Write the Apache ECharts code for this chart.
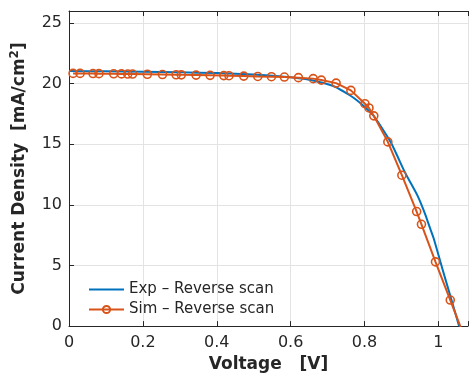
<!DOCTYPE html>
<html>
<head>
<meta charset="utf-8">
<script src="https://cdn.jsdelivr.net/npm/echarts@6/dist/echarts.min.js"></script>
<style>
  html, body { margin: 0; padding: 0; background: #fff; }
  #chart { width: 471px; height: 378px; }
</style>
</head>
<body>
<div id="chart"></div>
<script>
// Exp - Reverse scan (solid line)
const expVoltage = [0, 0.1, 0.2, 0.3, 0.4, 0.5, 0.55, 0.6, 0.64, 0.68, 0.72, 0.76, 0.78, 0.8, 0.823, 0.85, 0.872, 0.89, 0.908, 0.925, 0.942, 0.955, 0.966, 0.977, 0.988, 1.01, 1.032, 1.056];
const expCurrent = [21.05, 21.02, 20.98, 20.94, 20.88, 20.76, 20.66, 20.54, 20.38, 20.12, 19.75, 19.05, 18.62, 18.1, 17.4, 16.2, 15.1, 13.95, 12.77, 11.8, 10.85, 9.95, 9.07, 8.1, 7.15, 4.8, 2.5, 0];

// Sim - Reverse scan (line + open circles)
const simVoltage = [0.011, 0.030, 0.065, 0.081, 0.121, 0.142, 0.159, 0.172, 0.212, 0.253, 0.290, 0.304, 0.344, 0.382, 0.419, 0.433, 0.473, 0.511, 0.548, 0.583, 0.621, 0.661, 0.683, 0.723, 0.763, 0.801, 0.812, 0.825, 0.863, 0.901, 0.941, 0.954, 0.992, 1.032, 1.064];
const simCurrent = [20.85, 20.85, 20.84, 20.83, 20.82, 20.81, 20.8, 20.8, 20.78, 20.76, 20.74, 20.73, 20.71, 20.69, 20.67, 20.66, 20.63, 20.6, 20.58, 20.55, 20.5, 20.42, 20.3, 20.05, 19.45, 18.35, 18.0, 17.35, 15.2, 12.45, 9.45, 8.4, 5.3, 2.15, -0.4];

const xTicks = [0, 0.2, 0.4, 0.6, 0.8, 1];
const yTicks = [0, 5, 10, 15, 20, 25];

const AXIS_COLOR = '#262626';
const GRID_COLOR = '#e3e3e3';
const FONT = 'DejaVu Sans';
const BLUE = '#0072BD';
const ORANGE = '#D95319';

const chart = echarts.init(document.getElementById('chart'), null, { renderer: 'canvas' });

const xBase = {
  type: 'value',
  min: 0,
  max: 1.08,
  interval: 0.2,
  axisLine: { show: true, onZero: false, lineStyle: { color: AXIS_COLOR, width: 1 } },
  axisTick: { show: true, inside: true, length: 5, lineStyle: { color: AXIS_COLOR } },
};

chart.setOption({
  animation: false,
  backgroundColor: '#fff',
  textStyle: { fontFamily: FONT },
  grid: { left: 69, right: 0, top: 11, bottom: 51, containLabel: false },
  legend: {
    orient: 'vertical',
    left: 83,
    top: 277,
    itemWidth: 35,
    itemHeight: 9,
    itemGap: 5,
    textStyle: { fontFamily: FONT, fontSize: 15, color: AXIS_COLOR },
    data: [
      // plain line icon for the experimental curve
      { name: 'Exp – Reverse scan', icon: 'path://M0,0M0,3.6h35v1.8h-35zM35,9' },
      { name: 'Sim – Reverse scan' },
    ],
  },
  xAxis: [
    Object.assign({}, xBase, {
      position: 'bottom',
      name: 'Voltage   [V]',
      nameLocation: 'middle',
      nameGap: 29,
      nameTextStyle: { fontFamily: FONT, fontSize: 17, fontWeight: 'bold', color: AXIS_COLOR },
      axisLabel: {
        fontFamily: FONT, fontSize: 16, color: AXIS_COLOR, margin: 9,
        formatter: (v) => (xTicks.some((t) => Math.abs(t - v) < 1e-9) ? String(+v.toFixed(1)) : ''),
      },
      splitLine: { show: true, lineStyle: { color: GRID_COLOR, width: 1 } },
    }),
    Object.assign({}, xBase, {
      position: 'top',
      axisLabel: { show: false },
      splitLine: { show: false },
    }),
  ],
  yAxis: {
    type: 'value',
    min: 0,
    max: 26,
    interval: 5,
    name: '{t|Current Density  [mA/cm}{s|2}{t|]}',
    nameLocation: 'middle',
    nameGap: 33,
    nameRotate: 90,
    nameTextStyle: {
      rich: {
        t: { fontFamily: FONT, fontSize: 17, fontWeight: 'bold', color: AXIS_COLOR, lineHeight: 22 },
        s: { fontFamily: FONT, fontSize: 12, fontWeight: 'bold', color: AXIS_COLOR, verticalAlign: 'top', lineHeight: 22, padding: [0, 0, 10, 0] },
      },
    },
    axisLine: { show: true, lineStyle: { color: AXIS_COLOR, width: 1 } },
    axisTick: { show: true, inside: true, length: 5, lineStyle: { color: AXIS_COLOR } },
    axisLabel: {
      fontFamily: FONT, fontSize: 16, color: AXIS_COLOR, margin: 7,
      showMaxLabel: false,
      formatter: (v) => (yTicks.includes(v) ? String(v) : ''),
    },
    splitLine: { show: true, lineStyle: { color: GRID_COLOR, width: 1 } },
  },
  series: [
    {
      name: 'Exp – Reverse scan',
      type: 'line',
      data: expVoltage.map((v, i) => [v, expCurrent[i]]),
      symbol: 'none',
      smooth: 0.2,
      clip: true,
      lineStyle: { color: BLUE, width: 2 },
      itemStyle: { color: BLUE },
      z: 3,
    },
    {
      name: 'Sim – Reverse scan',
      type: 'line',
      data: simVoltage.map((v, i) => [v, simCurrent[i]]),
      symbol: 'circle',
      symbolSize: 8,
      showAllSymbol: true,
      clip: true,
      lineStyle: { color: ORANGE, width: 2 },
      itemStyle: { color: 'rgba(255,255,255,0)', borderColor: ORANGE, borderWidth: 1.6 },
      z: 4,
    },
  ],
});
</script>
</body>
</html>
